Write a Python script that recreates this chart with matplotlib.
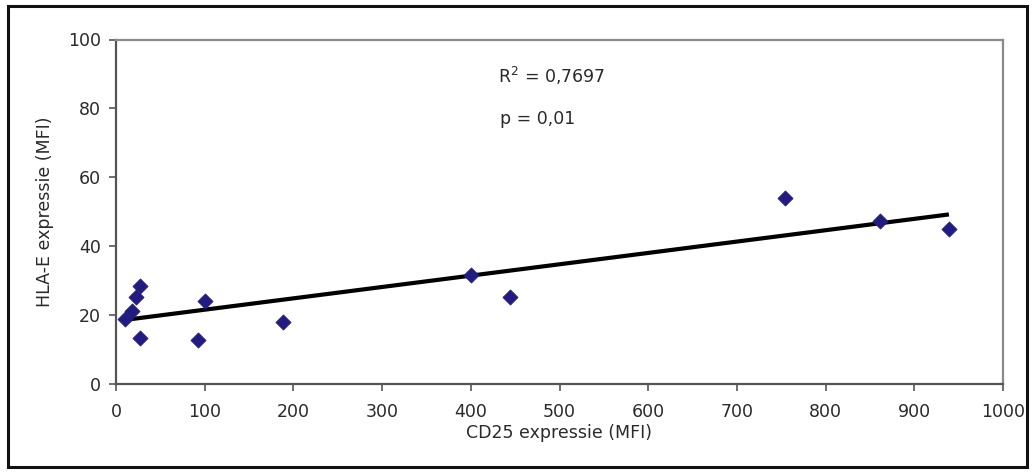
import numpy as np
import matplotlib
matplotlib.use("Agg")
import matplotlib.pyplot as plt
from matplotlib.patches import Rectangle

# CD25 vs HLA-E expression (MFI)
cd25 = [10, 18, 23, 27, 27, 92, 100, 188, 400, 444, 754, 861, 939]
hla_e = [18.9, 21.3, 25.2, 28.5, 13.3, 12.8, 24.2, 18.1, 31.7, 25.3, 54.0, 47.2, 45.0]

x_ticks = [0, 100, 200, 300, 400, 500, 600, 700, 800, 900, 1000]
y_ticks = [0, 20, 40, 60, 80, 100]

r2_text = r"R$^{2}$ = 0,7697"
p_text = "p = 0,01"

plt.rcParams["font.family"] = ["DejaVu Sans"]
FS = 12.5
TXT = "#2a2a2a"

W, H = 1035, 472
fig = plt.figure(figsize=(W / 100, H / 100), dpi=100)
fig.patch.set_facecolor("white")

# outer frame around the chart
fig.patches.append(Rectangle((8 / W, 1 - 467 / H), (1027 - 8) / W, (467 - 6) / H,
                             transform=fig.transFigure, fill=False,
                             edgecolor="#111111", linewidth=2.2))

ax = fig.add_axes([116 / W, 1 - 384 / H, (1003 - 116) / W, (384 - 39.5) / H])
ax.set_xlim(0, 1000)
ax.set_ylim(0, 100)

for s in ["top", "right"]:
    ax.spines[s].set_color("#8a8a8a")
    ax.spines[s].set_linewidth(1.6)
for s in ["left", "bottom"]:
    ax.spines[s].set_color("#555555")
    ax.spines[s].set_linewidth(1.6)

ax.set_xticks(x_ticks)
ax.set_yticks(y_ticks)
ax.tick_params(axis="both", direction="out", length=5, width=1.2, color="#555555",
               labelsize=FS, labelcolor=TXT)
ax.tick_params(axis="x", pad=9)
ax.tick_params(axis="y", pad=6)

# linear trend line over the range of the data
xs = np.array(cd25, dtype=float)
ys = np.array(hla_e, dtype=float)
slope, intercept = np.polyfit(xs, ys, 1)
xl = np.array([xs.min(), xs.max()])
ax.plot(xl, slope * xl + intercept, color="black", linewidth=3, zorder=2,
        solid_capstyle="butt")

ax.scatter(cd25, hla_e, marker="D", s=60, color="#231c80", edgecolors="#231c80",
           linewidths=0.5, zorder=3)

ax.set_xlabel("CD25 expressie (MFI)", fontsize=FS, color=TXT, labelpad=2)
ax.set_ylabel("HLA-E expressie (MFI)", fontsize=FS, color=TXT, labelpad=10)

ax.text(0.431, 0.895, r2_text, transform=ax.transAxes, fontsize=FS,
        color=TXT, va="center", ha="left")
ax.text(0.433, 0.77, p_text, transform=ax.transAxes, fontsize=FS,
        color=TXT, va="center", ha="left")

fig.savefig("out.png", dpi=100, facecolor="white")
